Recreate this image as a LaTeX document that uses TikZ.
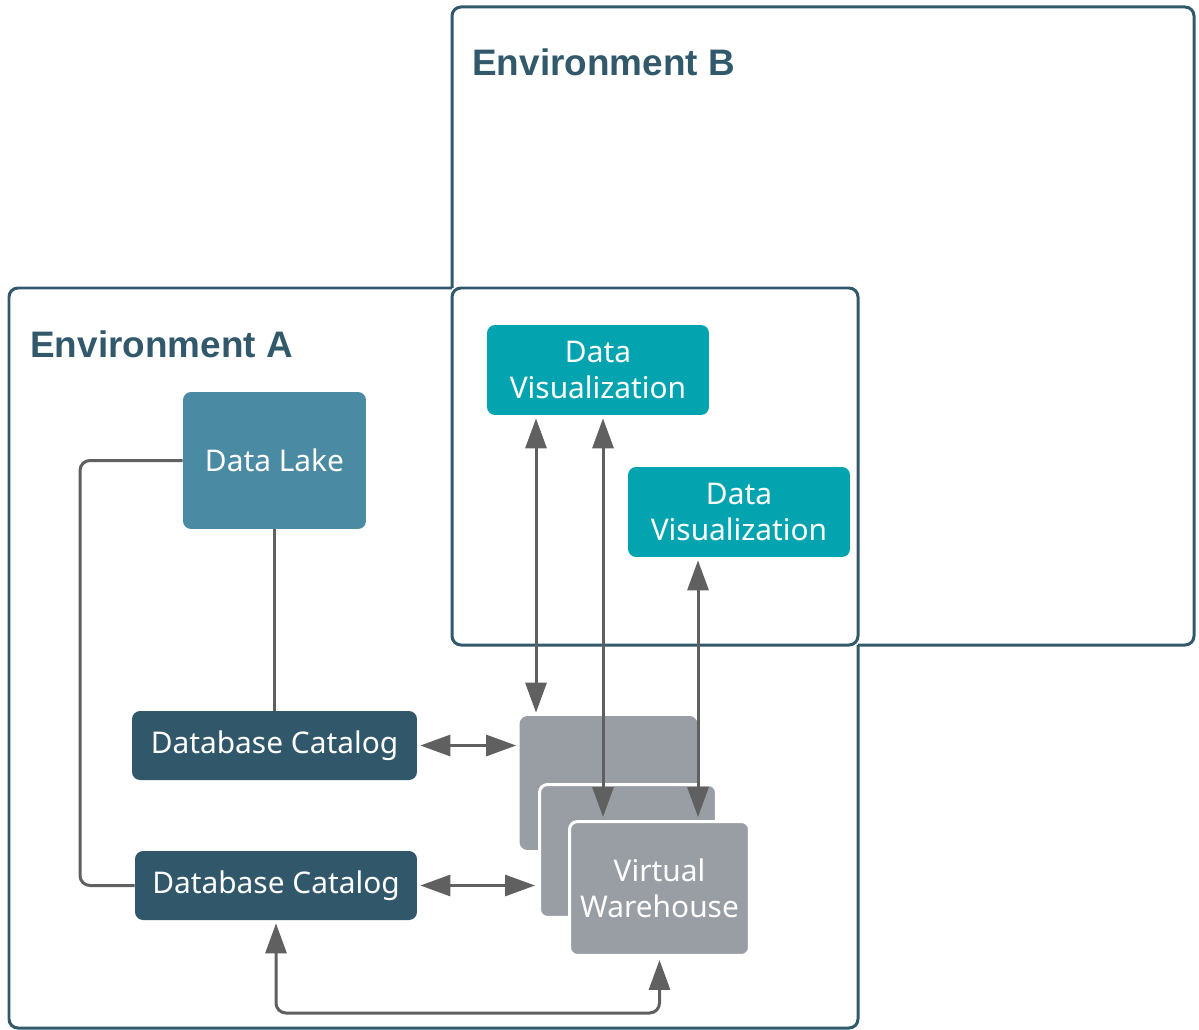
\documentclass[tikz,border=0pt]{standalone}
\usepackage{fontspec}
\setmainfont{Noto Sans}
\newfontfamily\titlefont{Liberation Sans}
\usetikzlibrary{arrows.meta,calc}
\definecolor{envc}{RGB}{50,89,107}
\definecolor{lakec}{RGB}{75,138,163}
\definecolor{catc}{RGB}{49,88,106}
\definecolor{visc}{RGB}{3,164,176}
\definecolor{vwc}{RGB}{153,158,164}
\definecolor{linec}{RGB}{96,96,96}
\tikzset{
  envline/.style={draw=envc, line width=0.06cm, rounded corners=0.18cm},
  envtitle/.style={anchor=base west, text=envc, font=\titlefont\bfseries\fontsize{21}{24}\selectfont, inner sep=0pt},
  boxbase/.style={rectangle, rounded corners=0.16cm, text=white, align=center, inner sep=0pt,
    font=\fontsize{17}{20.4}\selectfont},
  lakebox/.style={boxbase, fill=lakec},
  catbox/.style={boxbase, fill=catc},
  visbox/.style={boxbase, fill=visc},
  vwbox/.style={boxbase, fill=vwc},
  vwframed/.style={boxbase, fill=vwc, draw=white, line width=0.06cm},
  conn/.style={draw=linec, line width=0.06cm},
  biarr/.style={conn, {Triangle[length=0.6cm,width=0.42cm]}-{Triangle[length=0.6cm,width=0.42cm]}, shorten <=0.06cm, shorten >=0.06cm},
}
\begin{document}
\begin{tikzpicture}[x=0.02cm,y=-0.02cm]
\useasboundingbox (0,0) rectangle (1199,1030);
% environments
\draw[envline] (452,288) -- (9,288) -- (9,1028) -- (858,1028) -- (858,645);
\draw[envline] (452,288) -- (452,7) -- (1194,7) -- (1194,645) -- (858,645);
\draw[envline] (452,288) rectangle (858,645);
\node[envtitle] (tB) at (472,76) {Environment B};
\node[envtitle] (tA) at (30,357) {Environment A};
% nodes
\node[lakebox, minimum width=3.66cm, minimum height=2.74cm] (DL) at (274.5,460.5) {Data Lake};
\node[catbox, minimum width=5.7cm, minimum height=1.38cm] (C1) at (274.5,745.5) {Database Catalog};
\node[catbox, minimum width=5.64cm, minimum height=1.38cm] (C2) at (276,885.5) {Database Catalog};
\node[visbox, minimum width=4.44cm, minimum height=1.8cm] (V1) at (598,370) {Data\\Visualization};
\node[visbox, minimum width=4.44cm, minimum height=1.8cm] (V2) at (739,512) {Data\\Visualization};
\node[vwbox, minimum width=3.56cm, minimum height=2.68cm] (W1) at (608.5,783) {};
\node[vwframed, minimum width=3.54cm, minimum height=2.66cm] (W2) at (628,851) {};
\node[vwframed, minimum width=3.6cm, minimum height=2.68cm] (W3) at (659.5,888.5) {Virtual\\Warehouse};
% helper coordinates
\coordinate (xa) at (536,0);
\coordinate (xb) at (603,0);
\coordinate (xc) at (698,0);
\coordinate (lowy) at (0,1013);
\coordinate (leftx) at (80,0);
% connectors
\draw[conn] (DL.south) -- (C1.north);
\draw[conn, rounded corners=0.2cm] (DL.west) -- (DL.west -| leftx) |- (C2.west);
\draw[biarr] (V1.south -| xa) -- (W1.north -| xa);
\draw[biarr] (V1.south -| xb) -- (W3.north -| xb);
\draw[biarr] (V2.south -| xc) -- (W3.north -| xc);
\draw[biarr] (C1.east) -- (W1.west |- C1.east);
\draw[biarr] (C2.east) -- (W2.west |- C2.east);
\draw[biarr, rounded corners=0.2cm] (C2.south) |- (W3.south |- lowy) -- (W3.south);
\end{tikzpicture}
\end{document}
